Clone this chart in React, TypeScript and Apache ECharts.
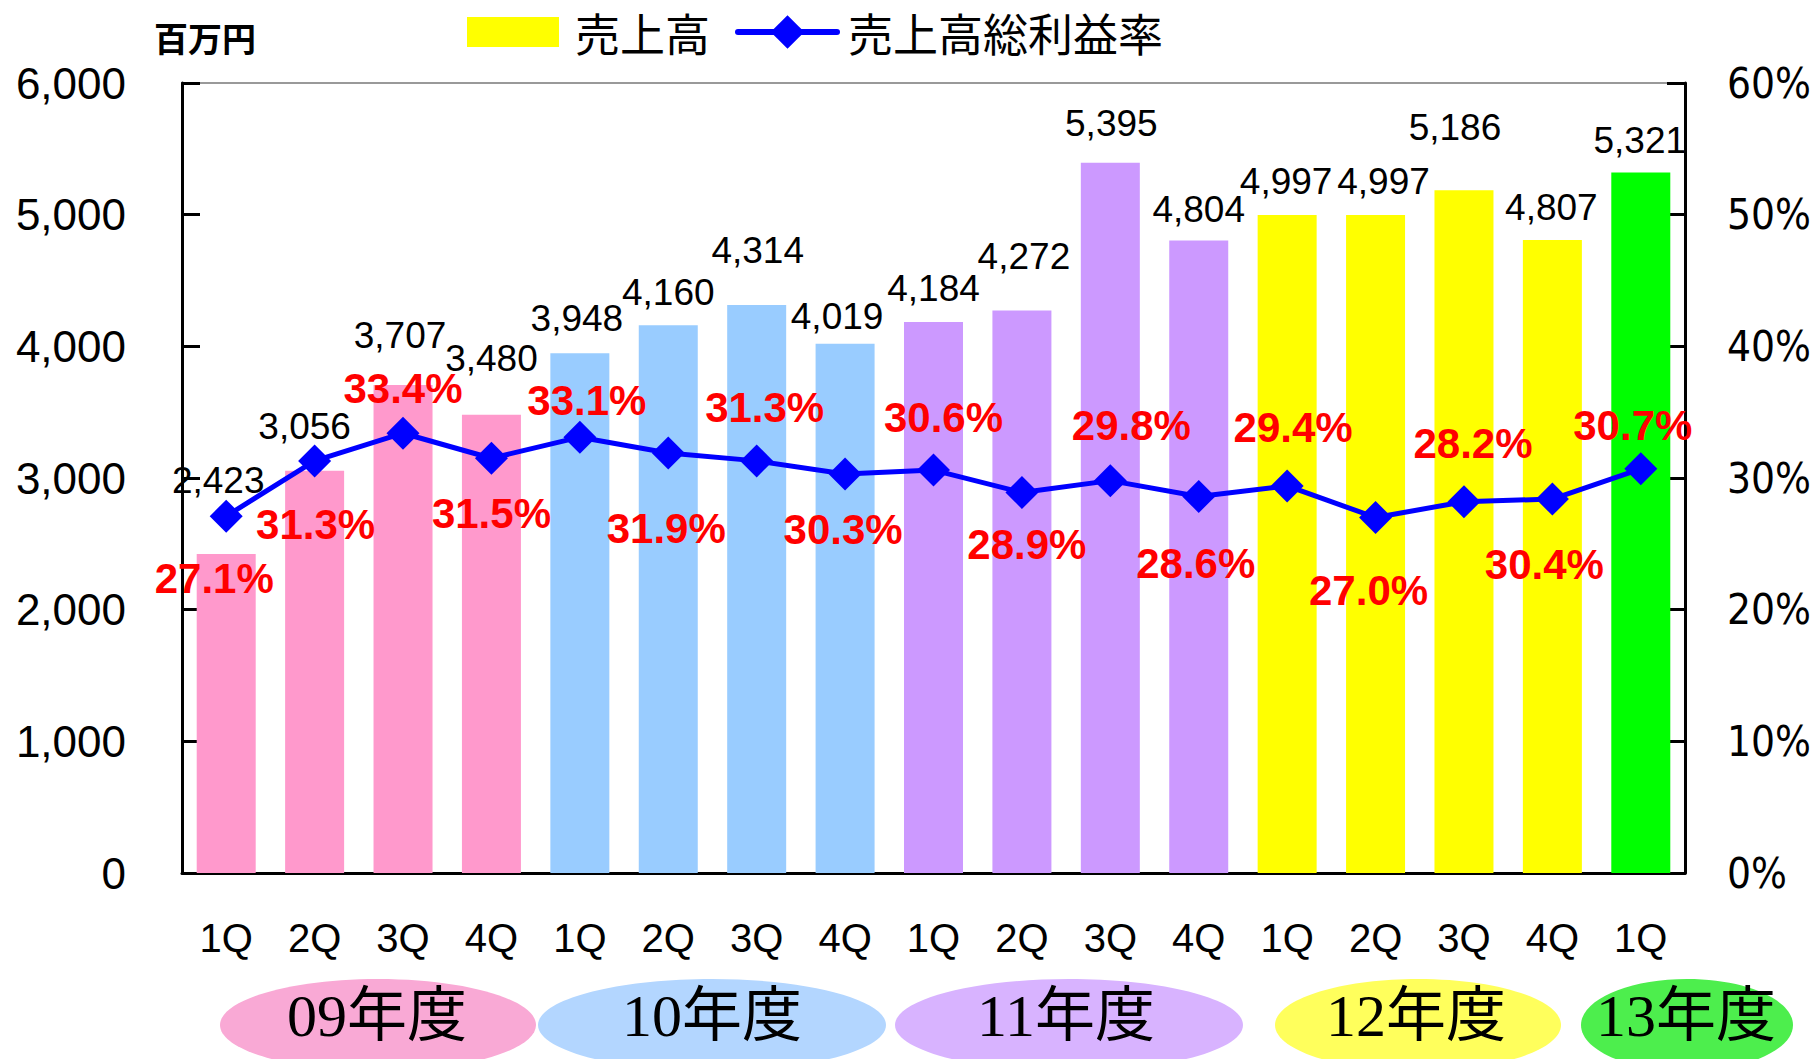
import React, { useEffect, useRef } from 'react';
import * as echarts from 'echarts';

const quarters = ['1Q', '2Q', '3Q', '4Q', '1Q', '2Q', '3Q', '4Q', '1Q', '2Q', '3Q', '4Q', '1Q', '2Q', '3Q', '4Q', '1Q'];
const sales = [2423, 3056, 3707, 3480, 3948, 4160, 4314, 4019, 4184, 4272, 5395, 4804, 4997, 4997, 5186, 4807, 5321];
const marginRate = [27.1, 31.3, 33.4, 31.5, 33.1, 31.9, 31.3, 30.3, 30.6, 28.9, 29.8, 28.6, 29.4, 27.0, 28.2, 28.4, 30.7];
const marginLabels = ['27.1%', '31.3%', '33.4%', '31.5%', '33.1%', '31.9%', '31.3%', '30.3%', '30.6%', '28.9%', '29.8%', '28.6%', '29.4%', '27.0%', '28.2%', '30.4%', '30.7%'];
const fiscalYears = ['09年度', '10年度', '11年度', '12年度', '13年度'];
const yearOfBar = [0, 0, 0, 0, 1, 1, 1, 1, 2, 2, 2, 2, 3, 3, 3, 3, 4];
const leftTicks = { min: 0, max: 6000, interval: 1000 };
const rightTicks = { min: 0, max: 60, interval: 10 };

// styles
const barColors = ['#FF99CC', '#99CCFF', '#CC99FF', '#FFFF00', '#00FF00'];
const ellipseColors = ['#F9A9D5', '#B3D6FF', '#D8B3FF', '#FFFF5C', '#4DEE4D'];
// label placement (offsets from bar top / point center)
const salesLabelOffsets = [
  [-8, -73], [-10, -44], [-3, -49], [0, -56], [-3, -35], [0, -33], [1, -54], [-8, -27], [0, -34],
  [2, -54], [1, -39], [0, -31], [-1, -34], [8, -34], [-9, -63], [-1, -33], [-1, -32],
];
const rateLabelOffsets = [
  [-12, 62], [1, 64], [0, -45], [0, 55], [7, -37], [-2, 76], [8, -53], [-2, 55], [10, -53],
  [5, 52], [21, -55], [-3, 67], [6, -58], [-7, 73], [9, -58], [-8, 65], [-8, -43],
];
// year badge layout
const badgeLayout = [
  { cx: 378, rx: 158, tx: 377 },
  { cx: 712, rx: 174, tx: 712 },
  { cx: 1069, rx: 174, tx: 1066 },
  { cx: 1418, rx: 143, tx: 1416 },
  { cx: 1687, rx: 106, tx: 1686 },
];

const SANS = '"Liberation Sans", Arial, sans-serif';
const NARROW = '"Liberation Sans Narrow", "DejaVu Sans Condensed", "Liberation Sans", sans-serif';
const CJK = '"Noto Sans CJK JP", sans-serif';

export default function App() {
  const ref = useRef<HTMLDivElement>(null);

  useEffect(() => {
    document.body.style.margin = '0';
    if (!ref.current) return;
    const chart = echarts.init(ref.current, undefined, { renderer: 'svg' });

    const barData = sales.map((v, i) => ({
      value: v,
      itemStyle: { color: barColors[yearOfBar[i]] },
      label: { offset: salesLabelOffsets[i] },
    }));
    const lineData = marginRate.map((v, i) => ({
      value: v,
      label: { offset: rateLabelOffsets[i], formatter: () => marginLabels[i] },
    }));

    const graphics: any[] = [
      {
        type: 'text',
        style: { text: '百万円', x: 154, y: 37, fontSize: 34, fontWeight: 'bold', fontFamily: CJK, fill: '#000', verticalAlign: 'middle' },
      },
    ];
    fiscalYears.forEach((fy, i) => {
      const b = badgeLayout[i];
      graphics.push({
        type: 'ellipse',
        shape: { cx: b.cx, cy: 1025, rx: b.rx, ry: 46 },
        style: { fill: ellipseColors[i] },
        z: 1,
      });
      graphics.push({
        type: 'text',
        z: 2,
        style: {
          text: fy, x: b.tx, y: 1016, align: 'center', verticalAlign: 'middle',
          fontSize: 60, fontFamily: '"Liberation Serif", "Noto Sans CJK JP", serif', fill: '#000',
        },
      });
    });

    const legendText = { fontSize: 45, lineHeight: 50, fontFamily: CJK, color: '#000' };

    chart.setOption({
      animation: false,
      backgroundColor: '#fff',
      grid: { left: 182, right: 131, top: 83, bottom: 186, show: true, borderColor: '#999', borderWidth: 2 },
      legend: [
        {
          data: [{ name: '売上高', icon: 'rect' }],
          left: 467,
          top: 7,
          padding: 0,
          itemWidth: 92,
          itemHeight: 30,
          textStyle: { ...legendText, padding: [0, 0, 0, 11] },
        },
        {
          data: [{ name: '売上高総利益率' }],
          left: 735,
          top: 7,
          padding: 0,
          itemWidth: 99,
          itemHeight: 42,
          lineStyle: { width: 6, cap: 'round', color: '#0000FF' },
          textStyle: { ...legendText, padding: [0, 0, 0, 6] },
        },
      ],
      xAxis: {
        type: 'category',
        data: quarters,
        axisLine: { lineStyle: { color: '#000', width: 3 } },
        axisTick: { inside: true, length: 15, lineStyle: { color: '#000', width: 3 } },
        axisLabel: { interval: 0, margin: 45, fontSize: 40, color: '#000', fontFamily: SANS },
        splitLine: { show: false },
      },
      yAxis: [
        {
          type: 'value',
          ...leftTicks,
          axisLine: { show: true, lineStyle: { color: '#000', width: 3 } },
          axisTick: { show: true, inside: true, length: 18, lineStyle: { color: '#000', width: 3 } },
          splitLine: { show: false },
          axisLabel: {
            margin: 56, fontSize: 44, color: '#000', fontFamily: SANS,
            formatter: (v: number) => v.toLocaleString('en-US'),
          },
        },
        {
          type: 'value',
          position: 'right',
          ...rightTicks,
          axisLine: { show: true, lineStyle: { color: '#000', width: 3 } },
          axisTick: { show: true, inside: true, length: 18, lineStyle: { color: '#000', width: 3 } },
          splitLine: { show: false },
          axisLabel: { margin: 42, fontSize: 42, color: '#000', fontFamily: NARROW, formatter: '{value}%' },
        },
      ],
      series: [
        {
          name: '売上高',
          type: 'bar',
          data: barData,
          barWidth: 59,
          itemStyle: { color: '#FFFF00' },
          z: 2,
          label: {
            show: true,
            position: ['50%', 0],
            align: 'center',
            verticalAlign: 'middle',
            fontSize: 37,
            color: '#000',
            fontFamily: SANS,
            formatter: (p: any) => Number(p.value).toLocaleString('en-US'),
          },
        },
        {
          name: '売上高総利益率',
          type: 'line',
          yAxisIndex: 1,
          data: lineData,
          symbol: 'diamond',
          symbolSize: 33,
          color: '#0000FF',
          itemStyle: { color: '#0000FF' },
          lineStyle: { color: '#0000FF', width: 5 },
          z: 4,
          label: {
            show: true,
            position: ['50%', '50%'],
            align: 'center',
            verticalAlign: 'middle',
            fontSize: 42,
            fontWeight: 'bold',
            color: '#FF0000',
            fontFamily: SANS,
          },
        },
      ],
      graphic: graphics,
    });

    return () => chart.dispose();
  }, []);

  return <div ref={ref} style={{ width: 1816, height: 1059 }} />;
}
